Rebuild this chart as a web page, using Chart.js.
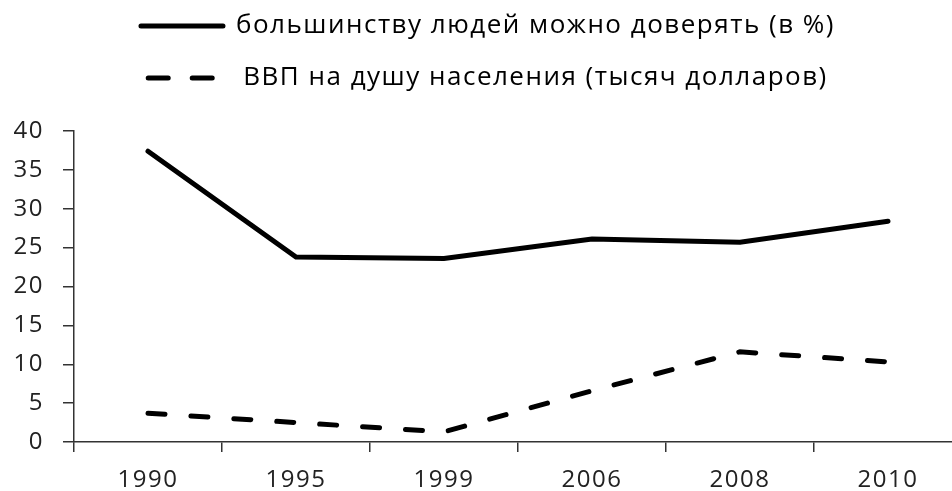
<!DOCTYPE html>
<html>
<head>
<meta charset="utf-8">
<script src="https://cdn.jsdelivr.net/npm/chart.js@4.4.1/dist/chart.umd.min.js"></script>
<style>
  html, body { margin: 0; padding: 0; background: #fff; overflow: hidden; }
  #wrap { width: 962px; height: 491px; }
</style>
</head>
<body>
<div id="wrap"><canvas id="chart"></canvas></div>
<script>
const years = ['1990', '1995', '1999', '2006', '2008', '2010'];
const trust = [37.4, 23.8, 23.6, 26.1, 25.7, 28.4];
const gdp = [3.7, 2.5, 1.3, 6.6, 11.6, 10.3];
const yTicks = [0, 5, 10, 15, 20, 25, 30, 35, 40];

const font = "'Open Sans', sans-serif";

// extra space under the legend
const legendGap = {
    id: 'legendGap',
    beforeInit(chart) {
        const fit = chart.legend.fit;
        chart.legend.fit = function () {
            fit.bind(chart.legend)();
            this.height += 30;
        };
    }
};

// the original text is a bit wider, so spread letters a little
const spacing = {
    id: 'spacing',
    beforeLayout(chart) { chart.ctx.letterSpacing = '1.5px'; },
    beforeDraw(chart) { chart.ctx.letterSpacing = '1.5px'; }
};

new Chart(document.getElementById('chart'), {
    type: 'line',
    data: {
        labels: years,
        datasets: [{
            label: 'большинству людей можно доверять (в %)',
            data: trust,
            borderColor: '#000',
            backgroundColor: '#000',
            borderWidth: 5,
            borderCapStyle: 'round',
            pointRadius: 0,
            tension: 0
        }, {
            label: 'ВВП на душу населения (тысяч долларов)',
            data: gdp,
            borderColor: '#000',
            backgroundColor: '#000',
            borderWidth: 5,
            borderDash: [17, 26],
            borderCapStyle: 'round',
            pointRadius: 0,
            tension: 0
        }]
    },
    options: {
        responsive: true,
        maintainAspectRatio: false,
        animation: false,
        layout: { padding: { top: -13, bottom: 0, left: 14, right: 0 } },
        scales: {
            x: {
                offset: true,
                afterFit: axis => { axis.height = 49; },
                grid: {
                    offset: true,
                    drawOnChartArea: false,
                    drawTicks: true,
                    tickLength: 10,
                    color: '#333',
                    lineWidth: 1.5
                },
                border: { display: true, color: '#333', width: 1.5 },
                ticks: {
                    color: '#222',
                    padding: 14,
                    font: { family: font, size: 24 }
                }
            },
            y: {
                min: 0,
                max: 40,
                afterBuildTicks: axis => { axis.ticks = yTicks.map(v => ({ value: v })); },
                afterFit: axis => { axis.width = 60; },
                grid: {
                    drawOnChartArea: false,
                    drawTicks: true,
                    tickLength: 11,
                    color: '#333',
                    lineWidth: 1.5
                },
                border: { display: true, color: '#333', width: 1.5 },
                ticks: {
                    color: '#222',
                    padding: 19,
                    font: { family: font, size: 24 }
                }
            }
        },
        plugins: {
            legend: {
                position: 'top',
                labels: {
                    usePointStyle: true,
                    pointStyle: 'line',
                    pointStyleWidth: 82,
                    boxHeight: 24,
                    padding: 26,
                    color: '#111',
                    font: { family: font, size: 26 },
                    generateLabels: chart => chart.data.datasets.map((ds, i) => ({
                        text: ds.label,
                        strokeStyle: '#000',
                        fillStyle: '#000',
                        lineWidth: 5,
                        lineDash: i === 1 ? [20, 24] : [],
                        lineCap: 'round',
                        pointStyle: 'line',
                        datasetIndex: i
                    }))
                }
            },
            tooltip: { enabled: false }
        }
    },
    plugins: [legendGap, spacing]
});
</script>
</body>
</html>
